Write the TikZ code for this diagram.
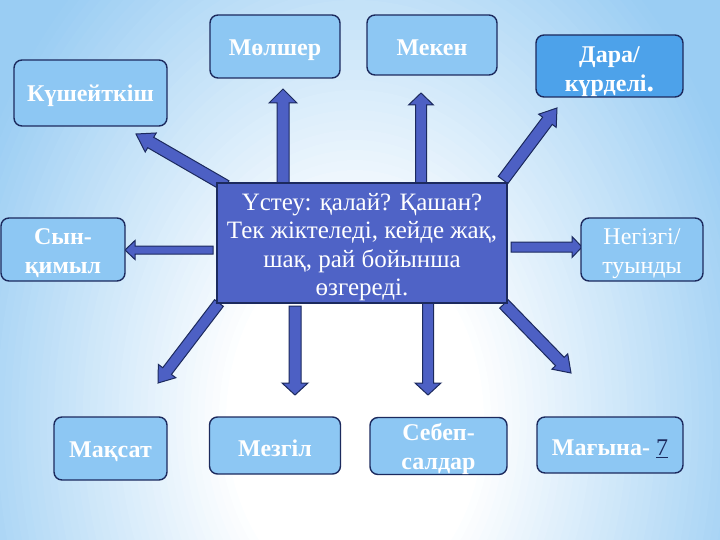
\documentclass[tikz,border=0pt]{standalone}
\usepackage{fontspec}
\setmainfont{Liberation Serif}
\usetikzlibrary{calc}
\definecolor{navy}{HTML}{1C2A5E}
\definecolor{lightbox}{HTML}{8DC7F3}
\definecolor{darabox}{HTML}{4DA2EA}
\definecolor{centerfill}{HTML}{4F63C6}
\definecolor{arrowfill}{HTML}{4D60C4}
\definecolor{bgblue}{HTML}{9ACDF3}
\tikzset{
  box/.style={draw=navy, line width=1.4pt, rounded corners=8pt, fill=lightbox, inner sep=0pt},
  boxtxt/.style={text=white, font=\bfseries\fontsize{24}{29}\selectfont, align=center, inner sep=0pt},
  plaintxt/.style={boxtxt, font=\fontsize{24}{29}\selectfont},
  centerbox/.style={draw=navy, line width=1.4pt, fill=centerfill, inner sep=0pt},
  centertxt/.style={text=white, font=\fontsize{25}{28.4}\selectfont, align=center, inner sep=0pt},
  arrowstyle/.style={draw=navy, line width=1pt, fill=arrowfill, line join=miter}
}
% #1 tail, #2 tip, #3 shaft half width, #4 head half width, #5 head length
\newcommand{\blockarr}[5]{%
  \coordinate (hh) at ($(#2)!#5!(#1)$);
  \draw[arrowstyle] ($(#1)!#3!90:(#2)$) -- ($(hh)!#3!90:(#2)$) -- ($(hh)!#4!90:(#2)$) -- (#2)
    -- ($(hh)!#4!-90:(#2)$) -- ($(hh)!#3!-90:(#2)$) -- ($(#1)!#3!-90:(#2)$) -- cycle;}
\begin{document}
\begin{tikzpicture}[x=1pt,y=-1pt]
\useasboundingbox (0,0) rectangle (720,540);
\fill[bgblue] (0,0) rectangle (720,540);
\begin{scope}
\clip (0,0) rectangle (720,540);
\foreach \i in {60,59,...,1}{
  \pgfmathsetmacro\p{min(100,max(0,(\i/60-0.3)/0.68*100))}
  \pgfmathsetmacro\rx{430/60*\i}
  \pgfmathsetmacro\ry{600/60*\i}
  \fill[bgblue!\p!white] (355,420) ellipse ({\rx pt} and {\ry pt});
}
\end{scope}

% arrow end points
\coordinate (tKush) at (226,186);  \coordinate (pKush) at (136,134);
\coordinate (tMol)  at (283,183);  \coordinate (pMol)  at (283,89);
\coordinate (tMek)  at (421,183);  \coordinate (pMek)  at (421,93);
\coordinate (tDara) at (503,180);  \coordinate (pDara) at (557,108);
\coordinate (tSyn)  at (213,250);  \coordinate (pSyn)  at (125,250);
\coordinate (tNeg)  at (511,247);  \coordinate (pNeg)  at (582,247);
\coordinate (tMak)  at (219,303);  \coordinate (pMak)  at (158,383);
\coordinate (tMez)  at (295,306);  \coordinate (pMez)  at (295,395);
\coordinate (tSeb)  at (428,302);  \coordinate (pSeb)  at (428,395);
\coordinate (tMag)  at (504,304);  \coordinate (pMag)  at (571,373);

\blockarr{tKush}{pKush}{6pt}{11pt}{17pt}
\blockarr{tMol}{pMol}{6pt}{14pt}{14pt}
\blockarr{tMek}{pMek}{5.5pt}{12.5pt}{12pt}
\blockarr{tDara}{pDara}{6pt}{11pt}{16pt}
\blockarr{tSyn}{pSyn}{4pt}{9.5pt}{10pt}
\blockarr{tNeg}{pNeg}{5pt}{10.5pt}{10pt}
\blockarr{tMak}{pMak}{5.5pt}{11pt}{15pt}
\blockarr{tMez}{pMez}{6pt}{13pt}{12pt}
\blockarr{tSeb}{pSeb}{5.5pt}{13pt}{12pt}
\blockarr{tMag}{pMag}{6pt}{11pt}{16pt}

\node[centerbox, minimum width=290pt, minimum height=120pt] (center) at (362,243) {};
\node[centertxt] (centerT) at ($(center.center)+(0,4)$)
  {Үстеу: қалай? Қашан?\\Тек жіктеледі, кейде жақ,\\шақ, рай бойынша\\өзгереді.};

\node[box, minimum width=153pt, minimum height=66pt] (kush) at (90.5,93) {};
\node[boxtxt] (kushT) at ($(kush.center)+(0,3)$) {Күшейткіш};
\node[box, minimum width=130pt, minimum height=63pt] (molsher) at (275,46.5) {};
\node[boxtxt] (molsherT) at ($(molsher.center)+(0,4)$) {Мөлшер};
\node[box, minimum width=130pt, minimum height=60pt] (meken) at (432,45) {};
\node[boxtxt] (mekenT) at ($(meken.center)+(0,3)$) {Мекен};
\node[box, fill=darabox, minimum width=147pt, minimum height=62pt] (dara) at (609.5,66) {};
\node[boxtxt] (daraT) at ($(dara.center)+(0,6)$) {Дара/\\күрделі{\fontsize{30}{29}\selectfont .}};
\node[box, minimum width=124pt, minimum height=63pt] (syn) at (63,249.5) {};
\node[boxtxt] (synT) at ($(syn.center)+(0,4)$) {Сын-\\қимыл};
\node[box, minimum width=122pt, minimum height=63pt] (negiz) at (642,249.5) {};
\node[plaintxt] (negizT) at ($(negiz.center)+(0,4)$) {Негізгі/\\туынды};
\node[box, minimum width=113pt, minimum height=63pt] (maksat) at (110.5,448.5) {};
\node[boxtxt] (maksatT) at ($(maksat.center)+(0,3)$) {Мақсат};
\node[box, minimum width=131pt, minimum height=57pt] (mezgil) at (275,445.5) {};
\node[boxtxt] (mezgilT) at ($(mezgil.center)+(0,3)$) {Мезгіл};
\node[box, minimum width=137pt, minimum height=57pt] (sebep) at (438.5,446) {};
\node[boxtxt] (sebepT) at ($(sebep.center)+(0,3)$) {Себеп-\\салдар};
\node[box, minimum width=146pt, minimum height=56pt] (magyna) at (610,445) {};
\node[boxtxt] (magynaT) at ($(magyna.center)+(0,4)$) {Мағына- \textcolor{navy}{\mdseries\underline{7}}};
\end{tikzpicture}
\end{document}
